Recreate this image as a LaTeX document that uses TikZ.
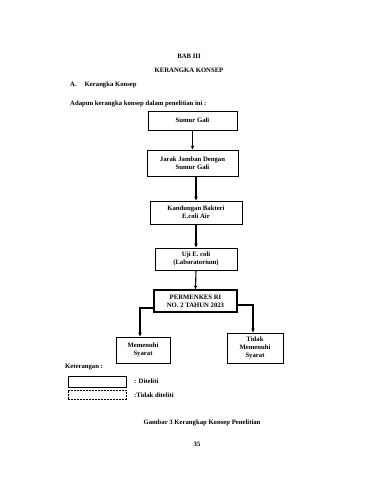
\documentclass[tikz,border=0pt]{standalone}
\usepackage{fontspec}
\setmainfont{Liberation Serif}
\usetikzlibrary{arrows.meta}
\begin{document}
\begin{tikzpicture}[x=1pt,y=-1pt,
  every node/.style={font=\fontsize{6.7}{7.7}\selectfont\bfseries},
  box/.style={draw,line width=1pt,rectangle,align=center,inner sep=1pt},
  thickbox/.style={box,line width=1.4pt},
  conn/.style={line width=1.1pt,-{Stealth[length=4pt,width=3.5pt]}},
  txt/.style={inner sep=0pt}]
\useasboundingbox[fill=white] (0,0) rectangle (371,480);
\node[txt] (bab) at (189,56) {BAB III};
\node[txt] (kk) at (189,70) {KERANGKA KONSEP};
\node[txt,anchor=west] (sec) at (70,85) {A.\hspace{1.2em}Kerangka Konsep};
\node[txt,anchor=west] (intro) at (70,104) {Adapun kerangka konsep dalam penelitian ini :};
\node[box,minimum width=89pt,minimum height=19pt] (b1) at (192.5,120.5) {Sumur Gali};
\node[box,minimum width=91pt,minimum height=26pt] (b2) at (192.5,163) {Jarak Jamban Dengan\\Sumur Gali};
\node[box,minimum width=92pt,minimum height=23pt] (b3) at (196,212.5) {Kandungan Bakteri\\E.coli Air};
\node[box,minimum width=82pt,minimum height=22pt] (b4) at (196,259) {Uji E. coli\\(Laboratorium)};
\node[thickbox,minimum width=83pt,minimum height=22pt] (b5) at (195.5,301) {PERMENKES RI\\NO. 2 TAHUN 2023};
\node[box,minimum width=54pt,minimum height=26pt] (b6) at (143,350) {Memenuhi\\Syarat};
\node[box,minimum width=56pt,minimum height=30pt] (b7) at (255,348) {Tidak\\Memenuhi\\Syarat};
\coordinate (lc) at (140,308);
\coordinate (rc) at (253,305);
\draw[conn] (b1.south) -- (b2.north);
\draw[conn] (b2.south -| b3) -- (b3.north);
\draw[conn] (b3.south) -- (b4.north);
\draw[conn] (b4.south) -- (b5.north);
\draw[conn] (b5.west |- lc) -- (lc) -- (lc |- b6.north);
\draw[conn] (b5.east |- rc) -- (rc) -- (rc |- b7.north);
\node[txt,anchor=west] (ket) at (65,367) {Keterangan :};
\node[box,minimum width=58pt,minimum height=11pt] (l1) at (97,381.5) {};
\node[box,dash pattern=on 2pt off 1pt,minimum width=58pt,minimum height=9pt] (l2) at (97,394.5) {};
\node[txt,anchor=west] (d1) at (134,381) {: Diteliti};
\node[txt,anchor=west] (d2) at (134,395) {:Tidak diteliti};
\node[txt] (cap) at (202,423) {Gambar 3 Kerangkap Konsep Penelitian};
\node[txt] (pg) at (197,444) {35};
\end{tikzpicture}
\end{document}
